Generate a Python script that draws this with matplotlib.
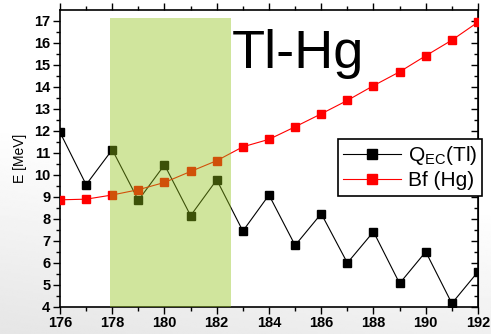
import matplotlib
matplotlib.use("Agg")
import matplotlib.pyplot as plt
import numpy as np
from matplotlib.ticker import MultipleLocator

plt.rcParams['font.family'] = ['Liberation Sans', 'DejaVu Sans']

mass = [176, 177, 178, 179, 180, 181, 182, 183, 184, 185, 186, 187, 188, 189, 190, 191, 192]
q_ec_tl = [11.93, 9.55, 11.14, 8.84, 10.45, 8.14, 9.77, 7.44, 9.08, 6.79, 8.23, 5.99, 7.41, 5.06, 6.50, 4.15, 5.59]
bf_hg = [8.86, 8.89, 9.08, 9.32, 9.65, 10.15, 10.64, 11.27, 11.61, 12.18, 12.77, 13.38, 14.05, 14.68, 15.41, 16.12, 16.94]
band_x = [177.9, 182.55]
band_top = 17.11
xticks = [176, 178, 180, 182, 184, 186, 188, 190, 192]
yticks = [4, 5, 6, 7, 8, 9, 10, 11, 12, 13, 14, 15, 16, 17]

fig = plt.figure(figsize=(4.91, 3.34), dpi=100)

# subtle background gradient (gray toward bottom-left)
bg = fig.add_axes([0, 0, 1, 1], zorder=-10)
gx, gy = np.meshgrid(np.linspace(0, 1, 200), np.linspace(0, 1, 200))
grad = 1 - 0.10 * np.clip(1 - gy * 1.6 - gx * 0.4, 0, 1)
bg.imshow(grad, cmap='gray', vmin=0, vmax=1, extent=[0, 1, 0, 1], origin='lower', aspect='auto')
bg.set_axis_off()

ax = fig.add_axes([0.1222, 0.0817, 0.8513, 0.8883])
ax.set_facecolor('white')

ax.plot(mass, q_ec_tl, color='black', lw=0.8, marker='s', ms=5.2, mec='black', mfc='black', label=r'Q$_{\mathregular{EC}}$(Tl)', zorder=3)
ax.plot(mass, bf_hg, color='red', lw=0.8, marker='s', ms=5.2, mec='red', mfc='red', label='Bf (Hg)', zorder=3)

ax.fill_between(band_x, [4, 4], [band_top, band_top], color=(0.57, 0.76, 0.09), alpha=0.42, lw=0, zorder=4)

ax.set_xlim(176, 192)
ax.set_ylim(4, 17.49)
ax.set_xticks(xticks)
ax.set_yticks(yticks)
ax.xaxis.set_minor_locator(MultipleLocator(1))
ax.yaxis.set_minor_locator(MultipleLocator(0.5))
ax.tick_params(axis='both', which='major', direction='out', length=5, width=1, labelsize=10.5, pad=2)
ax.tick_params(axis='both', which='minor', direction='out', length=3, width=1)
ax.tick_params(top=True, which='both', direction='out')
for lab in ax.get_xticklabels() + ax.get_yticklabels():
    lab.set_fontweight('bold')
for s in ax.spines.values():
    s.set_linewidth(1.2)

# right ticks inward
sec = ax.secondary_yaxis('right')
sec.set_yticks(yticks)
sec.yaxis.set_minor_locator(MultipleLocator(0.5))
sec.tick_params(which='major', direction='in', length=5, width=1, labelright=False)
sec.tick_params(which='minor', direction='in', length=3, width=1)
ax.tick_params(axis='y', which='both', right=False)

ax.set_ylabel('E [MeV]', fontsize=10, labelpad=5)

ax.text(0.41, 0.937, 'Tl-Hg', transform=ax.transAxes, fontsize=39, ha='left', va='top', zorder=5)

leg = ax.legend(loc='upper right', bbox_to_anchor=(1.01, 0.565), fontsize=15, frameon=True,
                fancybox=False, edgecolor='black', framealpha=1, handlelength=2.8,
                borderpad=0.25, labelspacing=0.2, handletextpad=0.3, borderaxespad=0,
                markerscale=1.35)
leg.get_frame().set_linewidth(1.2)
leg.set_zorder(6)

fig.savefig('out.png', dpi=100)
